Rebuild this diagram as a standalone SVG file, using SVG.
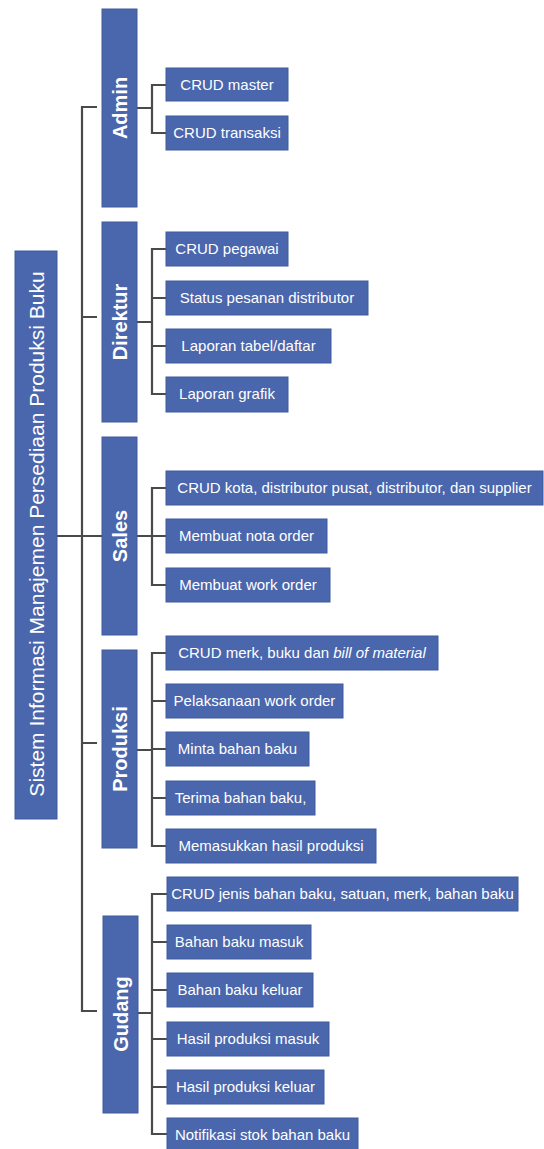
<svg xmlns="http://www.w3.org/2000/svg" width="544" height="1149" viewBox="0 0 544 1149">
<style>
.b{fill:#4A66AC;stroke:#3F5C9E;stroke-width:1}
.t{fill:#FFFFFF;font-family:"Liberation Sans",Arial,sans-serif;font-size:15px;text-anchor:middle}
.g{fill:#FFFFFF;font-family:"Liberation Sans",Arial,sans-serif;font-size:20px;font-weight:bold;text-anchor:middle}
.m{fill:#FFFFFF;font-family:"Liberation Sans",Arial,sans-serif;font-size:21px;text-anchor:middle}
.c{fill:none;stroke:#4A4A4A;stroke-width:2.2}
</style>
<rect width="544" height="1149" fill="#FFFFFF"/>
<g id="connectors">
<path class="c" d="M97 107 H82 V1011 H97 M57 536 H102 M82 317 H97 M82 743 H97"/>
<path class="c" d="M137 108 H152 M166 85 H152 V133 H166"/>
<path class="c" d="M137 322 H152 M166 249 H152 V394 H166 M152 298 H166 M152 346 H166"/>
<path class="c" d="M137 536 H152 M166 488 H152 V585 H166 M152 536 H166"/>
<path class="c" d="M137 750 H152 M166 653 H152 V846 H166 M152 701 H166 M152 749 H166 M152 798 H166"/>
<path class="c" d="M138 1013 H152 M167 894 H152 V1134 H167 M152 942 H167 M152 990 H167 M152 1039 H167 M152 1087 H167"/>
</g>
<g id="root">
<rect class="b" x="15" y="251" width="42" height="568"/>
<text class="m" transform="translate(43.5 534) rotate(-90)">Sistem Informasi Manajemen Persediaan Produksi Buku</text>
</g>
<g id="admin">
<rect class="b" x="102" y="9" width="35" height="198"/>
<text class="g" transform="translate(126.5 108) rotate(-90)">Admin</text>
</g>
<g id="direktur">
<rect class="b" x="102" y="222" width="35" height="200"/>
<text class="g" transform="translate(126.5 322) rotate(-90)">Direktur</text>
</g>
<g id="sales">
<rect class="b" x="102" y="437" width="35" height="198"/>
<text class="g" transform="translate(126.5 536) rotate(-90)">Sales</text>
</g>
<g id="produksi">
<rect class="b" x="102" y="650" width="35" height="198"/>
<text class="g" transform="translate(126.5 749) rotate(-90)">Produksi</text>
</g>
<g id="gudang">
<rect class="b" x="103" y="916" width="35" height="197"/>
<text class="g" transform="translate(127.5 1014) rotate(-90)">Gudang</text>
</g>
<g id="a1"><rect class="b" x="166" y="68" width="122" height="33"/><text class="t" x="227" y="90">CRUD master</text></g>
<g id="a2"><rect class="b" x="166" y="116" width="122" height="34"/><text class="t" x="227" y="138">CRUD transaksi</text></g>
<g id="d1"><rect class="b" x="166" y="232" width="122" height="34"/><text class="t" x="227" y="254">CRUD pegawai</text></g>
<g id="d2"><rect class="b" x="166" y="281" width="202" height="34"/><text class="t" x="267" y="303">Status pesanan distributor</text></g>
<g id="d3"><rect class="b" x="166" y="329" width="165" height="34"/><text class="t" x="248.5" y="351">Laporan tabel/daftar</text></g>
<g id="d4"><rect class="b" x="166" y="377" width="122" height="35"/><text class="t" x="227" y="399">Laporan grafik</text></g>
<g id="s1"><rect class="b" x="166" y="471" width="377" height="34"/><text class="t" x="354.5" y="493">CRUD kota, distributor pusat, distributor, dan supplier</text></g>
<g id="s2"><rect class="b" x="166" y="519" width="161" height="34"/><text class="t" x="246.5" y="541">Membuat nota order</text></g>
<g id="s3"><rect class="b" x="166" y="568" width="164" height="34"/><text class="t" x="248" y="590">Membuat work order</text></g>
<g id="p1"><rect class="b" x="166" y="636" width="272" height="34"/><text class="t" x="302" y="658">CRUD merk, buku dan <tspan font-style="italic">bill of material</tspan></text></g>
<g id="p2"><rect class="b" x="166" y="684" width="177" height="34"/><text class="t" x="254.5" y="706">Pelaksanaan work order</text></g>
<g id="p3"><rect class="b" x="166" y="732" width="143" height="34"/><text class="t" x="237.5" y="754">Minta bahan baku</text></g>
<g id="p4"><rect class="b" x="166" y="781" width="149" height="34"/><text class="t" x="240.5" y="803">Terima bahan baku,</text></g>
<g id="p5"><rect class="b" x="166" y="829" width="210" height="34"/><text class="t" x="271" y="851">Memasukkan hasil produksi</text></g>
<g id="g1"><rect class="b" x="167" y="877" width="351" height="34"/><text class="t" x="342.5" y="899">CRUD jenis bahan baku, satuan, merk, bahan baku</text></g>
<g id="g2"><rect class="b" x="167" y="925" width="144" height="34"/><text class="t" x="239" y="947">Bahan baku masuk</text></g>
<g id="g3"><rect class="b" x="167" y="973" width="146" height="34"/><text class="t" x="240" y="995">Bahan baku keluar</text></g>
<g id="g4"><rect class="b" x="167" y="1022" width="162" height="34"/><text class="t" x="248" y="1044">Hasil produksi masuk</text></g>
<g id="g5"><rect class="b" x="167" y="1070" width="157" height="34"/><text class="t" x="245.5" y="1092">Hasil produksi keluar</text></g>
<g id="g6"><rect class="b" x="167" y="1118" width="191" height="33"/><text class="t" x="262.5" y="1140">Notifikasi stok bahan baku</text></g>
</svg>
